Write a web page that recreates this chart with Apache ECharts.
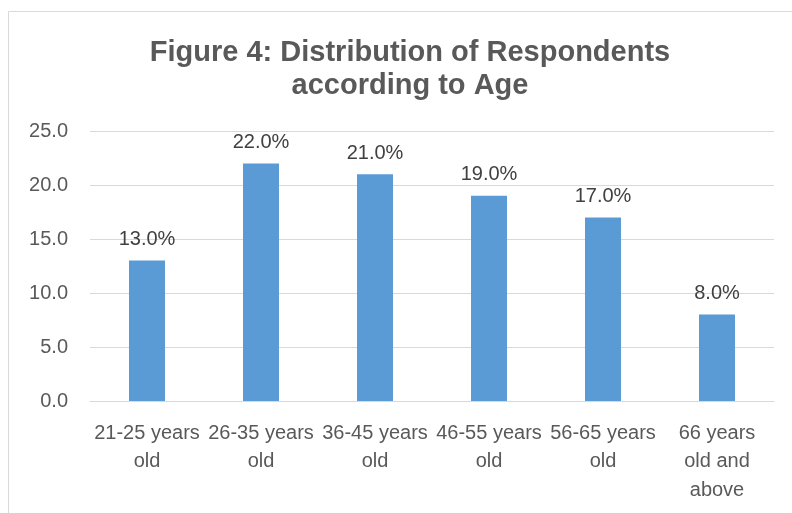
<!DOCTYPE html>
<html><head><meta charset="utf-8">
<script src="https://cdn.jsdelivr.net/npm/echarts@6/dist/echarts.min.js"></script>
<style>html,body{margin:0;padding:0;background:#fff}#c{width:792px;height:513px}</style>
</head><body><div id="c"></div>
<script>
var categories = ['21-25 years\nold','26-35 years\nold','36-45 years\nold','46-55 years\nold','56-65 years\nold','66 years\nold and\nabove'];
var values = [13.0, 22.0, 21.0, 19.0, 17.0, 8.0];
var yTicks = [0, 5, 25];
var titleLines = 'Figure 4: Distribution of Respondents\naccording to Age';

var F = 'Liberation Sans, Arial';
var chart = echarts.init(document.getElementById('c'), null, {renderer:'canvas'});
chart.setOption({
  animation:false,
  backgroundColor:'#fff',
  title:{text:titleLines,left:405,textAlign:'center',top:31,
    textStyle:{fontFamily:F,fontWeight:'bold',fontSize:29,color:'#595959',lineHeight:33}},
  graphic:[
    {type:'line',shape:{x1:8.5,y1:11.5,x2:792,y2:11.5},style:{stroke:'#d9d9d9',lineWidth:1}},
    {type:'line',shape:{x1:8.5,y1:11.5,x2:8.5,y2:513},style:{stroke:'#d9d9d9',lineWidth:1}}
  ],
  grid:{left:90,right:18,top:131,bottom:112,containLabel:false},
  xAxis:{type:'category',data:categories,
    axisLine:{lineStyle:{color:'#d9d9d9',width:1}},axisTick:{show:false},
    axisLabel:{interval:0,margin:18,fontFamily:F,fontSize:20,color:'#595959',lineHeight:28.5}},
  yAxis:{type:'value',min:yTicks[0],max:yTicks[2],interval:yTicks[1],
    axisLine:{show:false},axisTick:{show:false},
    splitLine:{lineStyle:{color:'#d9d9d9',width:1}},
    axisLabel:{margin:22,fontFamily:F,fontSize:20,color:'#595959',
      formatter:function(v){return v.toFixed(1);}}},
  series:[{type:'bar',data:values,barWidth:36,itemStyle:{color:'#5b9bd5'},
    label:{show:true,position:'top',distance:11,fontFamily:F,fontSize:20,color:'#404040',
      formatter:function(p){return p.value.toFixed(1)+'%';}}}]
});
</script></body></html>
